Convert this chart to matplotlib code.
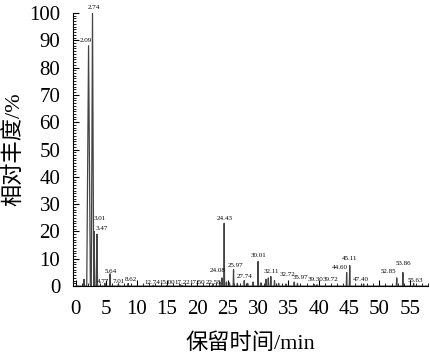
import numpy as np
import matplotlib
matplotlib.use("Agg")
import matplotlib.pyplot as plt
from matplotlib.ticker import MultipleLocator

plt.rcParams['font.family'] = ['Liberation Serif', 'Noto Sans CJK SC']

# retention time (min), relative abundance (%), half width (min)
rt = [1.35, 2.09, 2.74, 3.01, 3.47, 4.77, 5.64, 7.01, 8.62, 12.74, 15.00, 17.22, 17.50,
      22.58, 23.7, 24.08, 24.43, 24.8, 25.3, 25.97, 26.6, 27.74, 28.3, 29.2, 30.01, 30.5,
      31.3, 31.7, 32.11, 32.72, 33.4, 34.6, 35.97, 36.5, 39.30, 39.72, 44.60, 45.11,
      47.40, 52.85, 53.86, 55.63]
height = [2.5, 88, 100, 20, 19, 1.0, 4.5, 0.8, 1.0, 0.3, 0.3, 0.5, 0.3,
          0.8, 1.5, 3.0, 23, 1.5, 1.2, 6.0, 1.0, 2.0, 1.0, 1.5, 9.0, 1.2,
          2.5, 3.0, 3.5, 2.0, 1.0, 0.8, 1.5, 1.0, 0.5, 0.5, 5.0, 7.5,
          0.8, 3.0, 5.0, 1.0]
width = [0.08, 0.3, 0.2, 0.1, 0.1] + [0.06] * 37

# peak labels: text, x, y
lab_text = ['2.09', '2.74', '3.01', '3.47', '4.77', '5.64', '7.01', '8.62', '12.74', '15.00',
            '17.22', '17.50', '22.58', '24.08', '24.43', '25.97', '27.74', '30.01', '32.11',
            '32.72', '35.97', '39.30', '39.72', '44.60', '45.11', '47.40', '52.85', '53.86', '55.63']
lab_x = [1.6, 3.0, 4.0, 4.2, 4.4, 5.7, 7.1, 9.1, 12.6, 15.1, 17.6, 20.0, 22.6, 23.4, 24.5,
         26.3, 27.8, 30.1, 32.2, 34.8, 37.0, 39.5, 42.0, 43.5, 45.1, 46.9, 51.4, 54.0, 56.0]
lab_y = [89, 101, 24, 20, 0.6, 4.6, 0.6, 1.4, 0.3, 0.3, 0.4, 0.3, 0.3, 4.8, 24, 6.6, 2.6,
         10.2, 4.4, 3.2, 2.4, 1.4, 1.4, 6.0, 9.2, 1.4, 4.4, 7.2, 1.0]

# build trace
t = [0.0]
a = [0.0]
for r, h, w in sorted(zip(rt, height, width)):
    t += [r - w, r, r + w]
    a += [0.0, h, 0.0]
t.append(58)
a.append(0.0)

fig = plt.figure(figsize=(4.31, 3.59), dpi=100)
ax = fig.add_axes([0.169, 0.203, 0.824, 0.761])
ax.plot(t, a, color='#444444', lw=0.9)

for s, x, y in zip(lab_text, lab_x, lab_y):
    ax.text(x, y, s, fontsize=5, ha='center', va='bottom', clip_on=False)

ax.set_xlim(-0.5, 58)
ax.set_ylim(0, 100)
ax.xaxis.set_major_locator(MultipleLocator(5))
ax.xaxis.set_minor_locator(MultipleLocator(1))
ax.yaxis.set_major_locator(MultipleLocator(10))
ax.yaxis.set_minor_locator(MultipleLocator(1))
ax.tick_params(which='both', direction='in', labelsize=15)
ax.tick_params(which='major', length=4)
ax.tick_params(which='minor', length=2.5)
ax.tick_params(axis='x', pad=10)
ax.tick_params(axis='y', pad=9)
ax.spines['top'].set_visible(False)
ax.spines['right'].set_visible(False)
ax.set_xlabel('保留时间/min', fontsize=16, labelpad=10)
ax.set_ylabel('相对丰度/%', fontsize=16, labelpad=3)

fig.savefig('out.png', dpi=100)
